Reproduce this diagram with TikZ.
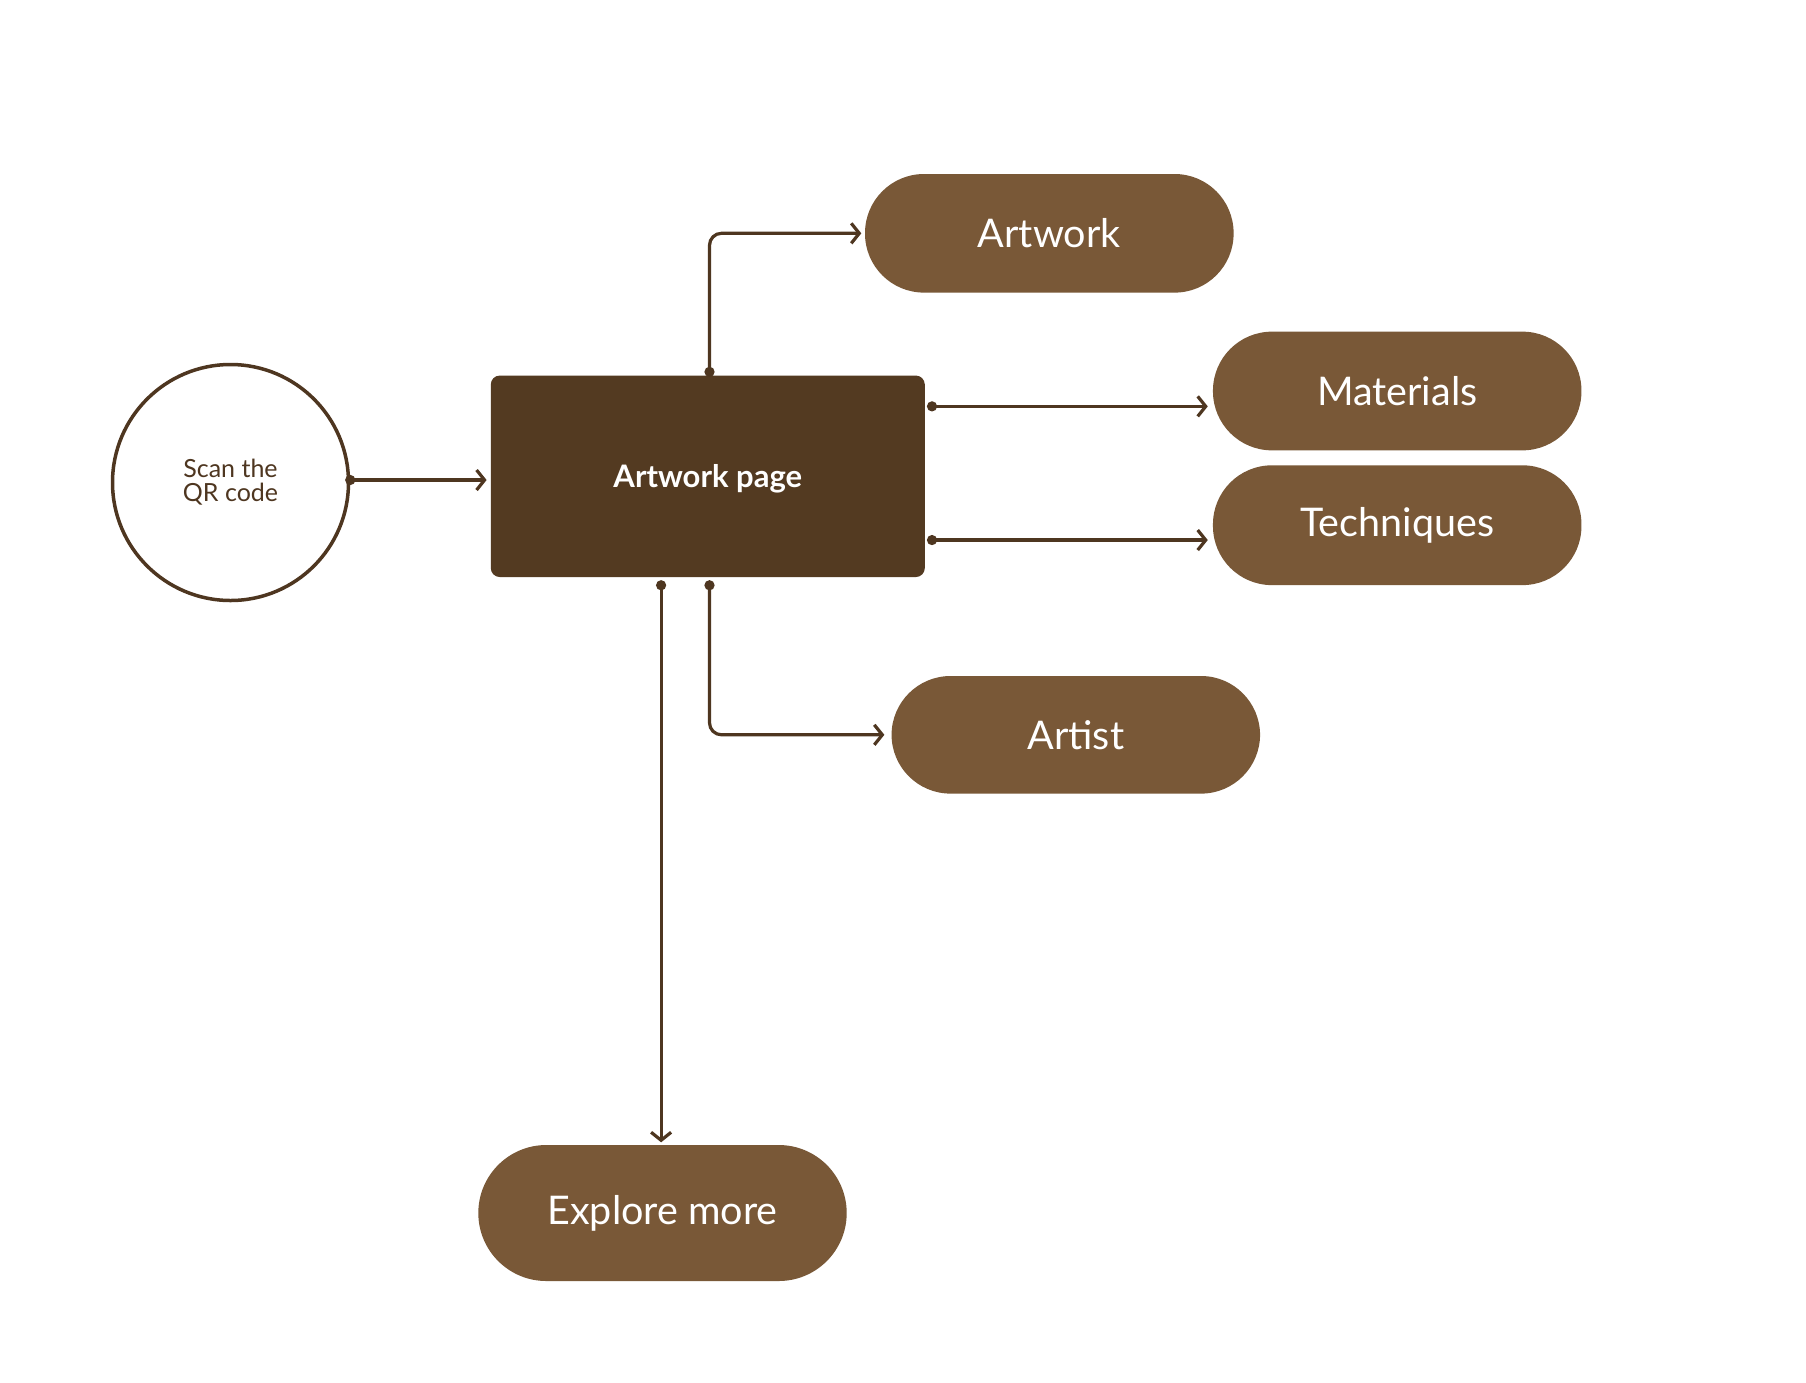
\documentclass[tikz,border=0pt]{standalone}
\usepackage{fontspec}
\setmainfont{Lato}
\usetikzlibrary{arrows.meta,calc}
\definecolor{linec}{HTML}{4E3620}
\definecolor{pagec}{HTML}{533A21}
\definecolor{pillc}{HTML}{795837}
\begin{document}
\begin{tikzpicture}[x=1pt,y=-1pt,
  pill/.style={rectangle,fill=pillc,text=white,font=\fontsize{39.5}{44}\selectfont,rounded corners=#1},
  pill/.default=59pt,
  conn/.style={draw=linec,line width=3.2pt,{Circle[length=10pt,width=10pt]}-{Straight Barb[length=8pt,width=20pt,line width=3.2pt]},rounded corners=12pt}
]
\useasboundingbox[fill=white] (0,0) rectangle (1806,1382);
\node[circle,draw=linec,line width=3.5pt,minimum size=236pt,inner sep=0pt,align=center,text=linec,
  font=\fontsize{25}{24}\selectfont] (qr) at (230.5,482.5) {Scan the\\QR code};
\node[rectangle,fill=pagec,rounded corners=9pt,minimum width=434pt,minimum height=201.5pt] (page) at (707.8,476.3) {};
\node[text=white,font=\fontsize{31}{36}\selectfont\bfseries] (pagetext) at ($(page.center)+(0,2.5)$) {Artwork page};
\node[pill,minimum width=368.6pt,minimum height=118.6pt] (artwork) at (1049.3,233.3) {Artwork};
\node[pill,minimum width=368.5pt,minimum height=118.7pt] (materials) at (1397.2,391) {Materials};
\node[pill,minimum width=368.5pt,minimum height=119.8pt] (techniques) at (1397.2,525.2) {Techniques};
\node[pill,minimum width=368.5pt,minimum height=117.6pt] (artist) at (1075.8,734.8) {Artist};
\node[pill=68pt,minimum width=368.4pt,minimum height=136pt] (explore) at (662.5,1213) {Explore more};

\coordinate (q0) at ($(qr.east)+(-5,-2.5)$);
\draw[conn,shorten >=4pt] (q0) -- (page.west |- q0);
\coordinate (a0) at ($(page.north)+(1.7,1.5)$);
\draw[conn,shorten >=3.5pt] (a0) |- (artwork.west);
\coordinate (m0) at ($(page.north east)+(2,31)$);
\draw[conn,shorten >=5pt] (m0) -- (materials.west |- m0);
\coordinate (t0) at ($(page.north east)+(2,164.7)$);
\draw[conn,shorten >=5pt] (t0) -- (techniques.west |- t0);
\coordinate (r0) at ($(page.south)+(1.7,3)$);
\draw[conn,shorten >=7pt] (r0) |- (artist.west);
\coordinate (e0) at ($(page.south)+(-46.7,3)$);
\draw[conn,shorten >=2.5pt] (e0) -- (explore.north -| e0);
\end{tikzpicture}
\end{document}
